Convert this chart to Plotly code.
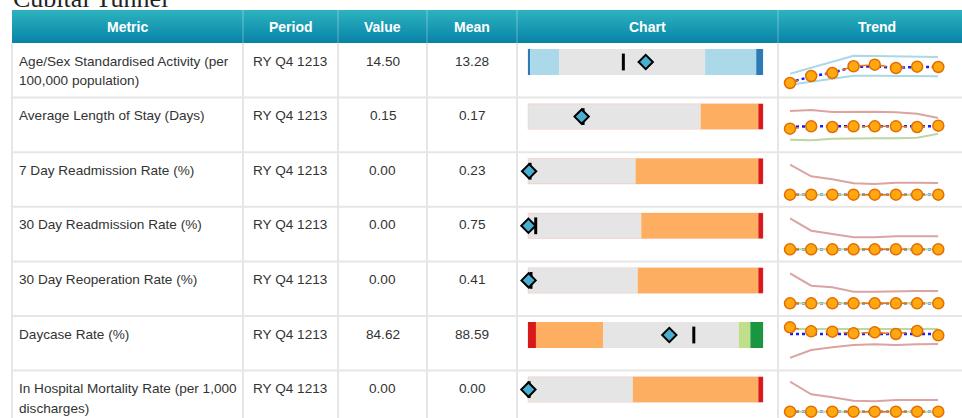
import plotly.graph_objects as go

W, H = 962, 418

# ---------------- data ----------------
title_text = "Cubital Tunnel"
columns = ["Metric", "Period", "Value", "Mean", "Chart", "Trend"]
metrics = [
    ["Age/Sex Standardised Activity (per", "100,000 population)"],
    ["Average Length of Stay (Days)"],
    ["7 Day Readmission Rate (%)"],
    ["30 Day Readmission Rate (%)"],
    ["30 Day Reoperation Rate (%)"],
    ["Daycase Rate (%)"],
    ["In Hospital Mortality Rate (per 1,000", "discharges)"],
]
periods = ["RY Q4 1213"] * 7
values = ["14.50", "0.15", "0.00", "0.00", "0.00", "84.62", "0.00"]
means = ["13.28", "0.17", "0.23", "0.75", "0.41", "88.59", "0.00"]

# bullet charts, on a 0-100 scale of each bar
band_edges = [
    [0, 1.0, 13.4, 75.3, 97.0, 100],
    [0, 73.4, 97.9, 100],
    [0, 45.8, 97.9, 100],
    [0, 48.2, 97.9, 100],
    [0, 46.7, 97.9, 100],
    [0, 3.5, 32.1, 89.6, 94.5, 100],
    [0, 44.6, 97.9, 100],
]
band_kinds = [
    ["outer", "wide", "mid", "wide", "outer"],
    ["mid", "warn", "alert"],
    ["mid", "warn", "alert"],
    ["mid", "warn", "alert"],
    ["mid", "warn", "alert"],
    ["alert", "warn", "mid", "good", "best"],
    ["mid", "warn", "alert"],
]
bullet_value = [50.1, 22.9, 0.6, 0.3, 0.4, 60.1, 0.3]
bullet_mark = [40.6, 23.5, 1.0, 3.4, 1.4, 70.5, 0.6]

# trend sparklines (8 quarters)
trend_x = [0, 1, 2, 3, 4, 5, 6, 7]
trend_values = [
    [12.50, 13.38, 13.75, 14.59, 14.79, 14.38, 14.54, 14.50],
    [0.120, 0.144, 0.137, 0.144, 0.144, 0.144, 0.137, 0.150],
    [0, 0, 0, 0, 0, 0, 0, 0],
    [0, 0, 0, 0, 0, 0, 0, 0],
    [0, 0, 0, 0, 0, 0, 0, 0],
    [92.62, 88.62, 88.22, 86.62, 87.62, 85.92, 88.92, 84.62],
    [0, 0, 0, 0, 0, 0, 0, 0],
]
trend_national = [
    [12.60, 13.30, 13.80, 14.50, 14.60, 14.40, 14.50, 14.50],
    [0.140, 0.145, 0.145, 0.145, 0.145, 0.145, 0.145, 0.145],
    [0, 0, 0, 0, 0, 0, 0, 0],
    [0, 0, 0, 0, 0, 0, 0, 0],
    [0, 0, 0, 0, 0, 0, 0, 0],
    [85.9, 85.9, 85.9, 85.9, 85.9, 85.9, 85.9, 85.9],
    [0, 0, 0, 0, 0, 0, 0, 0],
]
trend_upper = [
    [13.66, 14.41, 15.16, 15.91, 15.88, 15.84, 15.79, 15.75],
    [0.297, 0.307, 0.287, 0.290, 0.290, 0.284, 0.270, 0.227],
    [1.50, 0.92, 0.77, 0.57, 0.535, 0.60, 0.60, 0.585],
    [1.55, 0.93, 0.765, 0.60, 0.60, 0.65, 0.65, 0.65],
    [1.50, 0.88, 0.80, 0.58, 0.58, 0.615, 0.615, 0.615],
    [91.0, 91.0, 90.9, 90.9, 90.9, 90.9, 90.9, 90.9],
    [1.50, 0.87, 0.72, 0.55, 0.52, 0.585, 0.585, 0.585],
]
trend_lower = [
    [12.29, 12.66, 13.04, 13.41, 13.40, 13.38, 13.36, 13.34],
    [0.010, 0.004, 0.020, 0.024, 0.024, 0.024, 0.030, 0.070],
    [0, 0, 0, 0, 0, 0, 0, 0],
    [0, 0, 0, 0, 0, 0, 0, 0],
    [0, 0, 0, 0, 0, 0, 0, 0],
    [62.22, 69.92, 72.62, 74.92, 75.62, 74.92, 75.62, 75.92],
    [0, 0, 0, 0, 0, 0, 0, 0],
]
upper_kind = ["neutral", "bad", "bad", "bad", "bad", "good", "bad"]
lower_kind = ["neutral", "good", "good", "good", "good", "bad", "good"]

# ---------------- styles / layout ----------------
band_colors = {"outer": "#2c7bb6", "wide": "#abd9e9", "mid": "#e5e5e5",
               "warn": "#fdae61", "alert": "#d7191c", "good": "#c0df8c", "best": "#1a9641"}
limit_colors = {"neutral": "#a9d8e6", "bad": "#dca3a3", "good": "#bcd8a0"}
spark_ranges = [
    [10.675, 17.5], [-0.115, 0.431], [-0.605, 2.125], [-0.605, 2.125],
    [-0.635, 2.095], [49.32, 103.92], [-0.315, 2.055],
]

col_edges = [12, 243, 338, 427, 517, 778, 976]
header_top, header_bot = 10, 43
row_h = 54.6
row_tops = [header_bot + row_h * i for i in range(7)]
bar_x0, bar_x1 = 527.7, 763.3
spark_x0, spark_x1 = 790, 938.3

FONT = "Arial, 'Liberation Sans', sans-serif"
BODY_SIZE = 13.6
HEAD_SIZE = 14


def px(x):
    return x / W


def py(y):
    return 1 - y / H


fig = go.Figure()
layout = dict(
    width=W, height=H, margin=dict(l=0, r=0, t=0, b=0),
    paper_bgcolor="white", plot_bgcolor="rgba(0,0,0,0)",
    barmode="overlay", showlegend=False,
)
shapes = []
annotations = []

# header gradient strips
top_c = (44, 179, 190)
bot_c = (8, 131, 168)
n_strips = header_bot - header_top
for k in range(n_strips):
    t = k / (n_strips - 1)
    c = tuple(round(top_c[j] + (bot_c[j] - top_c[j]) * t) for j in range(3))
    shapes.append(dict(type="rect", xref="paper", yref="paper",
                       x0=px(col_edges[0]), x1=px(W + 20),
                       y0=py(header_top + k + 1), y1=py(header_top + k),
                       fillcolor="rgb(%d,%d,%d)" % c, line=dict(width=0), layer="below"))
# header column separators
for xe in col_edges[1:-1]:
    shapes.append(dict(type="line", xref="paper", yref="paper",
                       x0=px(xe), x1=px(xe), y0=py(header_bot), y1=py(header_top),
                       line=dict(color="rgba(255,255,255,0.35)", width=1), layer="below"))
# body grid
for t in row_tops[1:]:
    shapes.append(dict(type="line", xref="paper", yref="paper",
                       x0=px(col_edges[0]), x1=px(W + 20), y0=py(t), y1=py(t),
                       line=dict(color="#e6e6e6", width=2), layer="below"))
for xe in col_edges[:-1]:
    shapes.append(dict(type="line", xref="paper", yref="paper",
                       x0=px(xe), x1=px(xe), y0=py(H + 5), y1=py(header_bot),
                       line=dict(color="#e6e6e6", width=2), layer="below"))

# title
annotations.append(dict(text=title_text, x=px(11), y=py(-1.5), xref="paper", yref="paper",
                        xanchor="left", yanchor="middle", showarrow=False,
                        font=dict(family="'Times New Roman', 'Liberation Serif', serif",
                                  size=26, color="#222")))
# header labels
for c, name in enumerate(columns):
    annotations.append(dict(text="<b>%s</b>" % name,
                            x=px((col_edges[c] + col_edges[c + 1]) / 2), y=py(26.7),
                            xref="paper", yref="paper", xanchor="center", yanchor="middle",
                            showarrow=False, font=dict(family=FONT, size=HEAD_SIZE, color="white")))

for i in range(7):
    top = row_tops[i]
    # text cells
    for li, line in enumerate(metrics[i]):
        annotations.append(dict(text=line, x=px(17), y=py(top + 18 + 20 * li),
                                xref="paper", yref="paper", xanchor="left", yanchor="middle",
                                showarrow=False, font=dict(family=FONT, size=BODY_SIZE, color="#333")))
    annotations.append(dict(text=periods[i], x=px(251), y=py(top + 18), xref="paper", yref="paper",
                            xanchor="left", yanchor="middle", showarrow=False,
                            font=dict(family=FONT, size=BODY_SIZE, color="#333")))
    annotations.append(dict(text=values[i], x=px((col_edges[2] + col_edges[3]) / 2), y=py(top + 18),
                            xref="paper", yref="paper", xanchor="center", yanchor="middle",
                            showarrow=False, font=dict(family=FONT, size=BODY_SIZE, color="#333")))
    annotations.append(dict(text=means[i], x=px((col_edges[3] + col_edges[4]) / 2), y=py(top + 18),
                            xref="paper", yref="paper", xanchor="center", yanchor="middle",
                            showarrow=False, font=dict(family=FONT, size=BODY_SIZE, color="#333")))

    # ---- bullet chart axes
    bi = 2 * i + 1
    si = 2 * i + 2
    xb, yb = "x%d" % bi, "y%d" % bi
    xs, ys = "x%d" % si, "y%d" % si
    layout["xaxis%d" % bi] = dict(domain=[px(bar_x0), px(bar_x1)], range=[0, 100],
                                  visible=False, fixedrange=True, anchor=yb)
    layout["yaxis%d" % bi] = dict(domain=[py(top + 32), py(top + 6)], range=[-0.5, 0.5],
                                  visible=False, fixedrange=True, anchor=xb)
    edges = band_edges[i]
    for k, kind in enumerate(band_kinds[i]):
        fig.add_trace(go.Bar(x=[edges[k + 1] - edges[k]], base=[edges[k]], y=[0], orientation="h",
                             width=1, marker=dict(color=band_colors[kind], line=dict(width=0)),
                             xaxis=xb, yaxis=yb, hoverinfo="skip"))
    if "warn" in band_kinds[i] and band_kinds[i][0] == "mid":
        fig.add_trace(go.Bar(x=[100], base=[0], y=[0], orientation="h", width=1,
                             marker=dict(color="rgba(0,0,0,0)",
                                         line=dict(color="rgba(240,150,120,0.45)", width=1)),
                             xaxis=xb, yaxis=yb, hoverinfo="skip"))
    fig.add_trace(go.Scatter(x=[bullet_mark[i]], y=[0], mode="markers",
                             marker=dict(symbol="line-ns", size=12,
                                         line=dict(color="black", width=3)),
                             xaxis=xb, yaxis=yb, cliponaxis=False, hoverinfo="skip"))
    fig.add_trace(go.Scatter(x=[bullet_value[i]], y=[0], mode="markers",
                             marker=dict(symbol="diamond", size=11, color="#4aaed0",
                                         line=dict(color="black", width=2)),
                             xaxis=xb, yaxis=yb, cliponaxis=False, hoverinfo="skip"))

    # ---- sparkline axes
    bottom = min(top + row_h, H)
    layout["xaxis%d" % si] = dict(domain=[px(spark_x0), px(spark_x1)], range=[0, 7],
                                  visible=False, fixedrange=True, anchor=ys)
    layout["yaxis%d" % si] = dict(domain=[py(bottom), py(top)], range=spark_ranges[i],
                                  visible=False, fixedrange=True, anchor=xs)
    fig.add_trace(go.Scatter(x=trend_x, y=trend_national[i], mode="lines",
                             line=dict(color="#1a1aff", width=2.5, dash="dot"),
                             xaxis=xs, yaxis=ys, cliponaxis=False, hoverinfo="skip"))
    fig.add_trace(go.Scatter(x=trend_x, y=trend_upper[i], mode="lines",
                             line=dict(color=limit_colors[upper_kind[i]], width=2),
                             xaxis=xs, yaxis=ys, cliponaxis=False, hoverinfo="skip"))
    fig.add_trace(go.Scatter(x=trend_x, y=trend_lower[i], mode="lines",
                             line=dict(color=limit_colors[lower_kind[i]], width=2),
                             xaxis=xs, yaxis=ys, cliponaxis=False, hoverinfo="skip"))
    fig.add_trace(go.Scatter(x=trend_x, y=trend_values[i], mode="lines",
                             line=dict(color="#e8750a", width=1.5, dash="dash"),
                             xaxis=xs, yaxis=ys, cliponaxis=False, hoverinfo="skip"))
    fig.add_trace(go.Scatter(x=trend_x, y=trend_values[i], mode="markers",
                             marker=dict(size=11, color="#ffa80f",
                                         line=dict(color="#e36d00", width=1.5)),
                             xaxis=xs, yaxis=ys, cliponaxis=False, hoverinfo="skip"))

layout["shapes"] = shapes
layout["annotations"] = annotations
fig.update_layout(**layout)
fig.write_html("out.html", config={"displayModeBar": False},
               post_script="document.body.style.margin='0';document.body.style.overflow='hidden';")
